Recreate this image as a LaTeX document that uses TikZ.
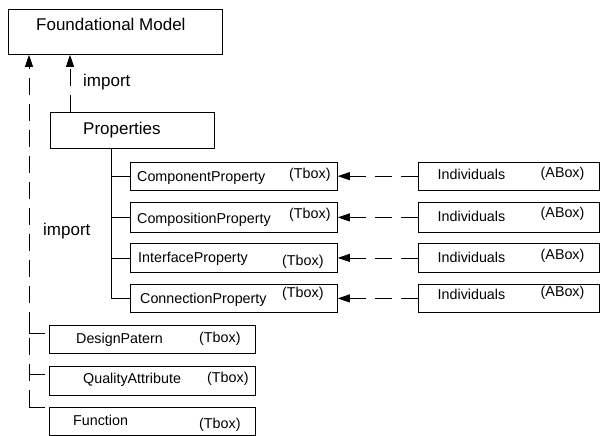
\documentclass[tikz,border=0pt]{standalone}
\usepackage{fontspec}
\setmainfont{Liberation Sans}
\usepackage{tikz}
\usetikzlibrary{arrows.meta, positioning}

\begin{document}
\begin{tikzpicture}[x=1pt,y=-1pt,font=\fontsize{14.3}{16}\selectfont]

    \useasboundingbox (0,0) rectangle (600,436);

    \tikzset{
    % boxes are placed by their top left corner
    box/.style={draw, line width=0.8pt, anchor=north west, inner sep=0, minimum height=29},
    smallbox/.style={box, minimum width=207},
    lowbox/.style={box, minimum width=206},
    indbox/.style={box, minimum width=181},
    % texts sit on their baseline
    txt/.style={anchor=base west, inner sep=0},
    bigtxt/.style={txt, font=\fontsize{17}{20}\selectfont},
    link/.style={line width=0.8pt},
    imp/.style={line width=0.8pt, dash pattern=on 17pt off 9pt},
    arr/.style={-{Triangle[length=12pt,width=8pt]}}
    }

    % top of the model
    \node (found) at (8,9)[box, minimum width=214, minimum height=45]{};
    \node (foundtxt) at (36,31)[bigtxt]{Foundational Model};

    \node (prop) at (50,112)[box, minimum width=164, minimum height=36]{};
    \node (proptxt) at (83,134)[bigtxt]{Properties};
    \node (imptop) at (83,87)[bigtxt]{import};
    \node (impside) at (43,235)[bigtxt]{import};

    % property boxes (Tbox)
    \node (comp) at (130,161.5)[smallbox, minimum height=28.5]{};
    \node (comptxt) at (137,181.5)[txt]{ComponentProperty};
    \node (compt) at (289,178)[txt]{(Tbox)};

    \node (compo) at (130,202)[smallbox, minimum height=30]{};
    \node (compotxt) at (137,223)[txt]{CompositionProperty};
    \node (compot) at (289,218)[txt]{(Tbox)};

    \node (inter) at (130,243)[smallbox]{};
    \node (intertxt) at (138,262)[txt]{InterfaceProperty};
    \node (intert) at (282,265)[txt]{(Tbox)};

    \node (conn) at (130,284)[smallbox, minimum height=28]{};
    \node (conntxt) at (140,303)[txt]{ConnectionProperty};
    \node (connt) at (282,297)[txt]{(Tbox)};

    % individuals (ABox)
    \node (ind1) at (418,161.5)[indbox, minimum height=28.5]{};
    \node (ind1txt) at (437.5,179.5)[txt]{Individuals};
    \node (ind1a) at (540.5,177)[txt]{(ABox)};

    \node (ind2) at (418,202)[indbox, minimum height=30]{};
    \node (ind2txt) at (437.5,221)[txt]{Individuals};
    \node (ind2a) at (540.5,217)[txt]{(ABox)};

    \node (ind3) at (418,243)[indbox]{};
    \node (ind3txt) at (437.5,262)[txt]{Individuals};
    \node (ind3a) at (540.5,259)[txt]{(ABox)};

    \node (ind4) at (418,284)[indbox, minimum height=28]{};
    \node (ind4txt) at (437.5,299)[txt]{Individuals};
    \node (ind4a) at (540.5,296)[txt]{(ABox)};

    % lower boxes
    \node (design) at (49,325)[lowbox, minimum height=28]{};
    \node (designtxt) at (76,343)[txt]{DesignPatern};
    \node (designt) at (199,342)[txt]{(Tbox)};

    \node (qual) at (49,366)[lowbox]{};
    \node (qualtxt) at (83,383)[txt]{QualityAttribute};
    \node (qualt) at (207,382)[txt]{(Tbox)};

    \node (func) at (49,407)[lowbox, minimum height=27.6]{};
    \node (functxt) at (73,425)[txt]{Function};
    \node (funct) at (199,428)[txt]{(Tbox)};

    % tree under Properties
    \coordinate (trunk) at (111,148);
    \draw[link] (trunk) |- (conn.west);
    \foreach \b in {comp,compo,inter}
        \draw[link] (trunk |- \b.west) -- (\b.west);

    % imports
    \coordinate (propimp) at (70,112);
    \draw[imp,arr] (propimp) -- (propimp |- found.south);

    \coordinate (side) at (29,407);
    \draw[imp,arr] (side) -- (side |- found.south);
    \coordinate (dpend) at (45,333);
    \coordinate (qaend) at (45,374);
    \coordinate (fnend) at (45,407);
    \draw[link] (29,316) |- (dpend);
    \draw[link] (side |- qaend) -- (qaend);
    \draw[link] (side) -- (fnend);

    % individuals to their property
    \draw[imp,arr] (ind1.west) -- (comp.east);
    \draw[imp,arr] (ind2.west) -- (compo.east);
    \draw[imp,arr] (ind3.west) -- (inter.east);
    \draw[imp,arr] (ind4.west) -- (conn.east);

\end{tikzpicture}
\end{document}
